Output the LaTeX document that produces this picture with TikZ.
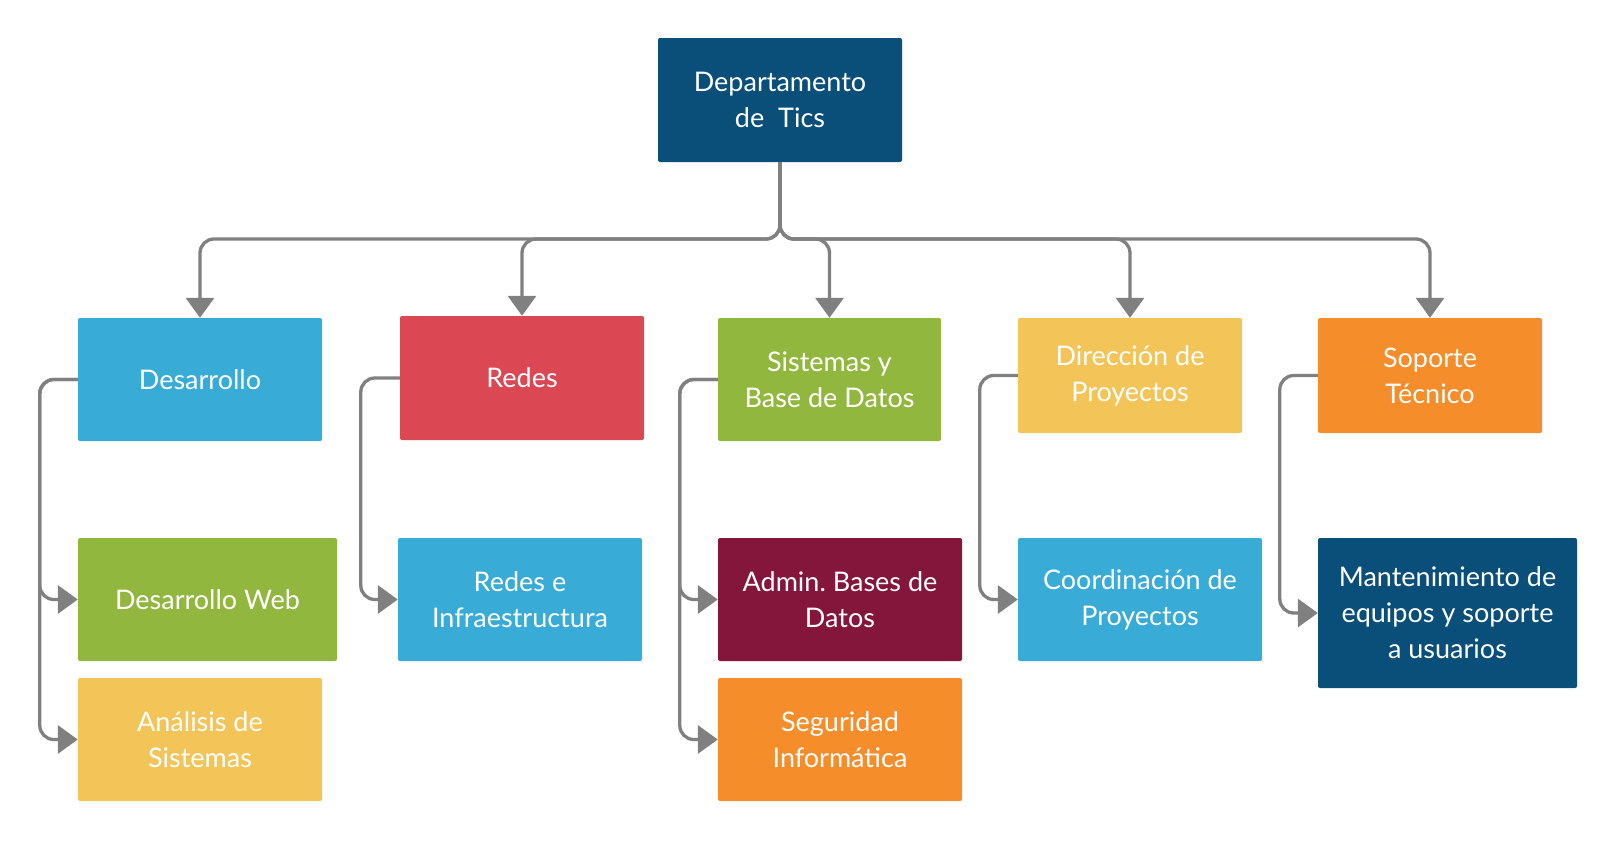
\documentclass[tikz,border=0pt]{standalone}
\usepackage{fontspec}
\setmainfont{Lato}
\usetikzlibrary{arrows.meta}
\definecolor{ticnavy}{HTML}{0A4F79}
\definecolor{ticsky}{HTML}{38ABD7}
\definecolor{ticred}{HTML}{DB4752}
\definecolor{ticgreen}{HTML}{92B73F}
\definecolor{ticyellow}{HTML}{F3C457}
\definecolor{ticorange}{HTML}{F58D2B}
\definecolor{ticwine}{HTML}{84153B}
\definecolor{linkgray}{HTML}{808080}

\begin{document}
\begin{tikzpicture}[x=1pt, y=-1pt,
		box/.style={rectangle, rounded corners=2pt, text=white, align=center, inner sep=0pt, minimum width=244pt, minimum height=123pt, font=\fontsize{27}{36}\selectfont},
		link/.style={draw=linkgray, line width=3.3pt, rounded corners=14pt, -{Triangle[length=20pt, width=28pt]}}]
	\useasboundingbox (0,0) rectangle (1616,841);

	\node[box, fill=ticnavy, minimum height=124pt] (tics) at (780,100) {Departamento\\de~~Tics};
	\coordinate (bus) at (780,239);

	\node[box, fill=ticsky] (dev) at (200,379.5) {Desarrollo};
	\node[box, fill=ticred, minimum height=124pt] (red) at (522,378) {Redes};
	\node[box, fill=ticgreen, minimum width=223pt] (sis) at (829.5,379.5) {Sistemas y\\Base de Datos};
	\node[box, fill=ticyellow, minimum width=224pt, minimum height=115pt] (dir) at (1130,375.5) {Dirección de\\Proyectos};
	\node[box, fill=ticorange, minimum width=224pt, minimum height=115pt] (sop) at (1430,375.5) {Soporte\\Técnico};

	\node[box, fill=ticgreen, minimum width=259pt] (web) at (207.5,599.5) {Desarrollo Web};
	\node[box, fill=ticyellow] (ana) at (200,739.5) {Análisis de\\Sistemas};
	\node[box, fill=ticsky] (inf) at (520,599.5) {Redes e\\Infraestructura};
	\node[box, fill=ticwine] (adm) at (840,599.5) {Admin.\ Bases de\\Datos};
	\node[box, fill=ticorange] (seg) at (840,739.5) {Seguridad\\Informática};
	\node[box, fill=ticsky] (coo) at (1140,599.5) {Coordinación de\\Proyectos};
	\node[box, fill=ticnavy, minimum width=259pt, minimum height=150pt] (man) at (1447.5,613) {Mantenimiento de\\equipos y soporte\\a usuarios};

	% top level
	\draw[link] (tics.south) |- (dev.north |- bus) -- (dev.north);
	\draw[link] (tics.south) |- (red.north |- bus) -- (red.north);
	\draw[link] (tics.south) |- (sis.north |- bus) -- (sis.north);
	\draw[link] (tics.south) |- (dir.north |- bus) -- (dir.north);
	\draw[link] (tics.south) |- (sop.north |- bus) -- (sop.north);

	% second level
	\draw[link] (dev.west) -- ++(-38,0) |- (web.west);
	\draw[link] (dev.west) -- ++(-38,0) |- (ana.west);
	\draw[link] (red.west) -- ++(-39,0) |- (inf.west);
	\draw[link] (sis.west) -- ++(-38,0) |- (adm.west);
	\draw[link] (sis.west) -- ++(-38,0) |- (seg.west);
	\draw[link] (dir.west) -- ++(-38,0) |- (coo.west);
	\draw[link] (sop.west) -- ++(-38,0) |- (man.west);
\end{tikzpicture}
\end{document}
